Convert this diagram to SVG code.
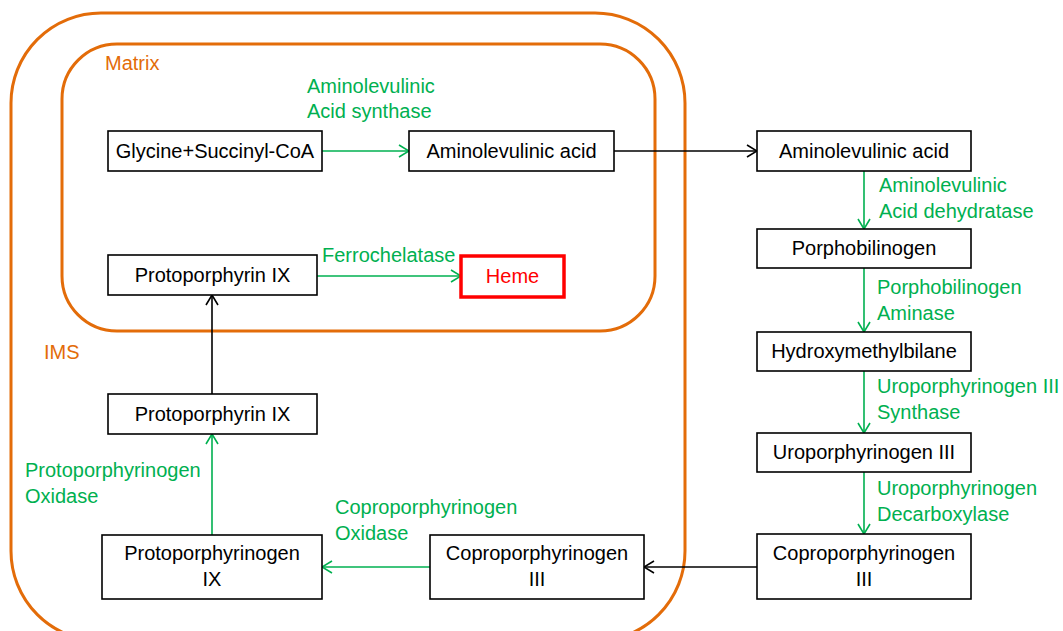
<svg xmlns="http://www.w3.org/2000/svg" width="1063" height="631" viewBox="0 0 1063 631">
<defs>
<style>
.box{fill:#fff;stroke:#000;stroke-width:1.6}
.t{font-family:"Liberation Sans",Arial,sans-serif;font-size:20px;fill:#000}
.c{text-anchor:middle}
.g{fill:#00B050}
.o{fill:#E36C09}
.cg{fill:none;stroke:#00B050;stroke-width:1.6}
.ck{fill:none;stroke:#000;stroke-width:1.6}
.mem{fill:none;stroke:#E36C09;stroke-width:3}
</style>
<marker id="ag" markerWidth="12" markerHeight="14" refX="11" refY="7" orient="auto" markerUnits="userSpaceOnUse"><path d="M1,1 L11,7 L1,13" fill="none" stroke="#00B050" stroke-width="1.6"/></marker>
<marker id="ak" markerWidth="12" markerHeight="14" refX="11" refY="7" orient="auto" markerUnits="userSpaceOnUse"><path d="M1,1 L11,7 L1,13" fill="none" stroke="#000" stroke-width="1.6"/></marker>
</defs>
<rect width="1063" height="631" fill="#fff"/>
<g id="membranes">
<rect class="mem" x="11" y="13" width="674" height="628" rx="90" ry="90"/>
<rect class="mem" x="62" y="44" width="593" height="287" rx="55" ry="55"/>
<text class="t o" x="105" y="70">Matrix</text>
<text class="t o" x="44" y="359">IMS</text>
</g>
<g id="connectors">
<line class="cg" x1="322" y1="151" x2="409" y2="151" marker-end="url(#ag)"/>
<line class="ck" x1="614" y1="151" x2="757" y2="151" marker-end="url(#ak)"/>
<line class="cg" x1="864" y1="171" x2="864" y2="229" marker-end="url(#ag)"/>
<line class="cg" x1="864" y1="268" x2="864" y2="332" marker-end="url(#ag)"/>
<line class="cg" x1="864" y1="371" x2="864" y2="433" marker-end="url(#ag)"/>
<line class="cg" x1="864" y1="472" x2="864" y2="534" marker-end="url(#ag)"/>
<line class="ck" x1="757" y1="567" x2="644" y2="567" marker-end="url(#ak)"/>
<line class="cg" x1="430" y1="567" x2="322" y2="567" marker-end="url(#ag)"/>
<line class="cg" x1="212" y1="535" x2="212" y2="434" marker-end="url(#ag)"/>
<line class="ck" x1="212" y1="394" x2="212" y2="295" marker-end="url(#ak)"/>
<line class="cg" x1="317" y1="276" x2="461" y2="276" marker-end="url(#ag)"/>
</g>
<g id="labels">
<text class="t g" x="307" y="93">Aminolevulinic</text>
<text class="t g" x="307" y="118">Acid synthase</text>
<text class="t g" x="322" y="262">Ferrochelatase</text>
<text class="t g" x="25" y="477">Protoporphyrinogen</text>
<text class="t g" x="25" y="503">Oxidase</text>
<text class="t g" x="335" y="514">Coproporphyrinogen</text>
<text class="t g" x="335" y="540">Oxidase</text>
<text class="t g" x="879" y="192">Aminolevulinic</text>
<text class="t g" x="879" y="218">Acid dehydratase</text>
<text class="t g" x="877" y="294">Porphobilinogen</text>
<text class="t g" x="877" y="320">Aminase</text>
<text class="t g" x="877" y="393">Uroporphyrinogen III</text>
<text class="t g" x="877" y="419">Synthase</text>
<text class="t g" x="877" y="495">Uroporphyrinogen</text>
<text class="t g" x="877" y="521">Decarboxylase</text>
</g>
<g id="glycine"><rect class="box" x="108" y="131" width="214" height="40"/><text class="t c" x="215" y="158">Glycine+Succinyl-CoA</text></g>
<g id="ala-matrix"><rect class="box" x="409" y="131" width="205" height="40"/><text class="t c" x="511.5" y="158">Aminolevulinic acid</text></g>
<g id="protoporphyrin-matrix"><rect class="box" x="108" y="255" width="209" height="40"/><text class="t c" x="212.5" y="282">Protoporphyrin IX</text></g>
<g id="heme"><rect x="461" y="256" width="103" height="41" fill="#fff" stroke="#FF0000" stroke-width="3.5"/><text class="t c" x="512.5" y="283" style="fill:#FF0000">Heme</text></g>
<g id="protoporphyrin-ims"><rect class="box" x="108" y="394" width="209" height="40"/><text class="t c" x="212.5" y="421">Protoporphyrin IX</text></g>
<g id="protoporphyrinogen"><rect class="box" x="102" y="535" width="220" height="64"/><text class="t c" x="212" y="560">Protoporphyrinogen</text><text class="t c" x="212" y="586">IX</text></g>
<g id="copro-ims"><rect class="box" x="430" y="535" width="214" height="64"/><text class="t c" x="537" y="560">Coproporphyrinogen</text><text class="t c" x="537" y="586">III</text></g>
<g id="ala-cyto"><rect class="box" x="757" y="131" width="214" height="40"/><text class="t c" x="864" y="158">Aminolevulinic acid</text></g>
<g id="porphobilinogen"><rect class="box" x="757" y="229" width="214" height="39"/><text class="t c" x="864" y="255">Porphobilinogen</text></g>
<g id="hydroxymethylbilane"><rect class="box" x="757" y="332" width="214" height="39"/><text class="t c" x="864" y="358">Hydroxymethylbilane</text></g>
<g id="uroporphyrinogen"><rect class="box" x="757" y="433" width="214" height="39"/><text class="t c" x="864" y="459">Uroporphyrinogen III</text></g>
<g id="copro-cyto"><rect class="box" x="757" y="534" width="214" height="65"/><text class="t c" x="864" y="560">Coproporphyrinogen</text><text class="t c" x="864" y="586">III</text></g>
</svg>
